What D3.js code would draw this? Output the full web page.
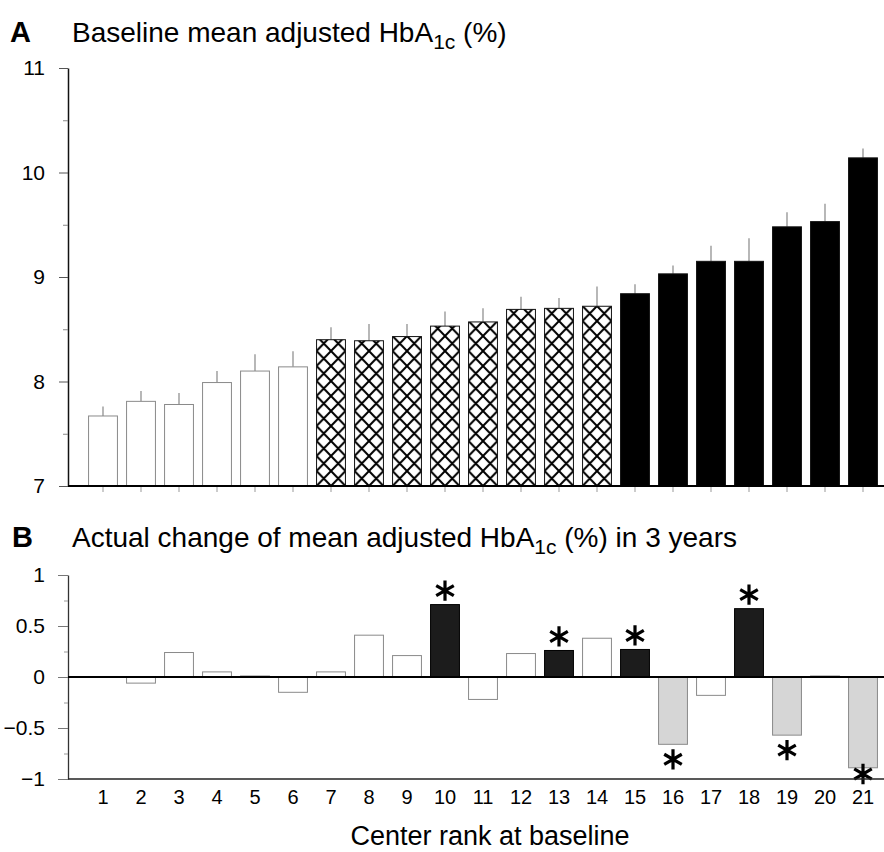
<!DOCTYPE html>
<html>
<head>
<meta charset="utf-8">
<script src="https://cdn.jsdelivr.net/npm/d3@7"></script>
<style>
  body { margin: 0; background: #fff; }
  svg { display: block; font-family: "Liberation Sans", Arial, sans-serif; }
</style>
</head>
<body>
<div id="chart-area"></div>
<script>

// Center ranks (x categories)
var ranks = ["1","2","3","4","5","6","7","8","9","10","11","12","13","14","15","16","17","18","19","20","21"];

// Panel A: baseline mean adjusted HbA1c (%) and upper error
var baseline = [7.67, 7.81, 7.78, 7.99, 8.10, 8.14, 8.40, 8.39, 8.43, 8.53, 8.57,
                8.69, 8.70, 8.72, 8.84, 9.03, 9.15, 9.15, 9.48, 9.53, 10.14];
var baselineErr = [0.09, 0.10, 0.11, 0.11, 0.16, 0.15, 0.12, 0.16, 0.12, 0.14, 0.13,
                   0.12, 0.10, 0.19, 0.09, 0.08, 0.15, 0.22, 0.14, 0.17, 0.09];
// tertile group of each center
var tertile = ["low","low","low","low","low","low",
               "mid","mid","mid","mid","mid","mid","mid","mid",
               "high","high","high","high","high","high","high"];

// Panel B: actual change in 3 years
var change = [0.005, -0.06, 0.24, 0.05, 0.01, -0.15, 0.05, 0.41, 0.21, 0.71, -0.22,
              0.23, 0.26, 0.38, 0.27, -0.66, -0.18, 0.67, -0.57, 0.01, -0.89];
// centers with a significant change
var significant = ["10","13","15","18","16","19","21"];

var yTicksA = [7, 8, 9, 10, 11];
var yTicksB = [-1, -0.5, 0, 0.5, 1];

var width = 884, height = 852;
var fontFamily = "'Liberation Sans', Arial, sans-serif";

var svg = d3.select("#chart-area").append("svg")
    .attr("width", width)
    .attr("height", height);

var defs = svg.append("defs");

// X scale (shared)
var x = d3.scaleBand()
    .domain(ranks)
    .range([84, 882])
    .paddingInner(0.24)
    .paddingOuter(0.12);

// Y scales
var yA = d3.scaleLinear().domain([7, 11]).range([486, 68]);
var yB = d3.scaleLinear().domain([-1, 1]).range([779, 575]);

var axisX0 = 68, axisX1 = 884;

var dataA = ranks.map(function(r, i) {
    return {rank: r, value: baseline[i], err: baselineErr[i], group: tertile[i]};
});
var dataB = ranks.map(function(r, i) {
    return {rank: r, value: change[i], sig: significant.indexOf(r) >= 0};
});

// crosshatch pattern for each middle-tertile bar
dataA.filter(function(d){ return d.group == "mid"; }).forEach(function(d){
    var w = x.bandwidth() / 2;
    var p = defs.append("pattern")
        .attr("id", "hatch-" + d.rank)
        .attr("patternUnits", "userSpaceOnUse")
        .attr("x", x(d.rank))
        .attr("y", yA(7))
        .attr("width", w)
        .attr("height", 15);
    p.append("rect").attr("width", w).attr("height", 15).attr("fill", "#fff");
    p.append("path")
        .attr("d", "M0,0L" + w + ",15M" + w + ",0L0,15")
        .attr("stroke", "#000")
        .attr("stroke-width", 2)
        .attr("fill", "none");
});

function styleAxisText(g, size) {
    g.attr("font-family", fontFamily).attr("font-size", size);
    g.selectAll("text").attr("fill", "#000");
}

// ---------- Panel A ----------
var gA = svg.append("g");

gA.append("text")
    .attr("x", 10).attr("y", 42)
    .attr("font-size", 29).attr("font-weight", "bold")
    .text("A");

var titleA = gA.append("text")
    .attr("x", 72).attr("y", 42)
    .attr("font-size", 28);
titleA.append("tspan").text("Baseline mean adjusted HbA");
titleA.append("tspan").attr("font-size", 21).attr("dy", 7).text("1c");
titleA.append("tspan").attr("dy", -7).text(" (%)");

// error bars (upper only)
gA.selectAll(".err")
    .data(dataA)
    .enter().append("line")
    .attr("class", "err")
    .attr("x1", function(d){ return x(d.rank) + x.bandwidth() / 2; })
    .attr("x2", function(d){ return x(d.rank) + x.bandwidth() / 2; })
    .attr("y1", function(d){ return yA(d.value); })
    .attr("y2", function(d){ return yA(d.value + d.err); })
    .attr("stroke", "#888")
    .attr("stroke-width", 1.2);

gA.selectAll(".bar")
    .data(dataA)
    .enter().append("rect")
    .attr("class", "bar")
    .attr("x", function(d){ return x(d.rank); })
    .attr("width", x.bandwidth())
    .attr("y", function(d){ return yA(d.value); })
    .attr("height", function(d){ return yA(7) - yA(d.value); })
    .attr("fill", function(d){
        if (d.group == "low") return "#fff";
        if (d.group == "mid") return "url(#hatch-" + d.rank + ")";
        return "#000";
    })
    .attr("stroke", function(d){ return d.group == "low" ? "#8a8a8a" : "#111"; })
    .attr("stroke-width", 1);

// y axis A
gA.append("g")
    .attr("transform", "translate(" + axisX0 + ",0)")
    .call(d3.axisLeft(yA).tickValues(yTicksA).tickSize(9).tickSizeOuter(0).tickPadding(14).tickFormat(d3.format("d")))
    .call(function(g){
        g.select(".domain").attr("stroke", "#111").attr("stroke-width", 1.5);
        g.selectAll(".tick line").attr("stroke", "#555");
        styleAxisText(g, 21);
    });
// minor ticks A
gA.append("g")
    .attr("transform", "translate(" + axisX0 + ",0)")
    .call(d3.axisLeft(yA).tickValues([7.5, 8.5, 9.5, 10.5]).tickSize(5).tickFormat(""))
    .call(function(g){
        g.select(".domain").remove();
        g.selectAll(".tick line").attr("stroke", "#888");
    });

// x axis A (ticks at bar centres, no labels)
gA.append("g")
    .attr("transform", "translate(0," + yA(7) + ")")
    .call(d3.axisBottom(x).tickSize(6).tickFormat(""))
    .call(function(g){
        g.select(".domain").remove();
        g.selectAll(".tick line").attr("stroke", "#999");
    });
gA.append("line")
    .attr("x1", axisX0).attr("x2", axisX1)
    .attr("y1", yA(7)).attr("y2", yA(7))
    .attr("stroke", "#000").attr("stroke-width", 1.8);

// ---------- Panel B ----------
var gB = svg.append("g");

gB.append("text")
    .attr("x", 12).attr("y", 547)
    .attr("font-size", 29).attr("font-weight", "bold")
    .text("B");

var titleB = gB.append("text")
    .attr("x", 72).attr("y", 547)
    .attr("font-size", 28);
titleB.append("tspan").text("Actual change of mean adjusted HbA");
titleB.append("tspan").attr("font-size", 21).attr("dy", 7).text("1c");
titleB.append("tspan").attr("dy", -7).text(" (%) in 3 years");

gB.selectAll(".bar")
    .data(dataB)
    .enter().append("rect")
    .attr("class", "bar")
    .attr("x", function(d){ return x(d.rank); })
    .attr("width", x.bandwidth())
    .attr("y", function(d){ return yB(Math.max(0, d.value)); })
    .attr("height", function(d){ return Math.abs(yB(d.value) - yB(0)); })
    .attr("fill", function(d){
        if (!d.sig) return "#fff";
        return d.value > 0 ? "#1c1c1c" : "#d6d6d6";
    })
    .attr("stroke", function(d){
        if (d.sig && d.value > 0) return "#000";
        return "#8a8a8a";
    })
    .attr("stroke-width", 1);

// significance asterisks (six-armed marks above / below the bar)
var star = d3.symbol().type(d3.symbolAsterisk).size(290);
gB.selectAll(".star")
    .data(dataB.filter(function(d){ return d.sig; }))
    .enter().append("path")
    .attr("class", "star")
    .attr("d", star)
    .attr("transform", function(d){
        var cx = x(d.rank) + x.bandwidth() / 2;
        var cy = d.value > 0 ? yB(d.value) - 14 : Math.min(yB(d.value) + 15, yB(-1) - 5);
        return "translate(" + cx + "," + cy + ")";
    })
    .attr("fill", "none")
    .attr("stroke", "#000")
    .attr("stroke-width", 3.2);

// y axis B
gB.append("g")
    .attr("transform", "translate(" + axisX0 + ",0)")
    .call(d3.axisLeft(yB).tickValues(yTicksB).tickSize(10).tickSizeOuter(0).tickPadding(13)
        .tickFormat(function(d){ return d3.format("")(d).replace("-", "\u2212"); }))
    .call(function(g){
        g.select(".domain").attr("stroke", "#333").attr("stroke-width", 1.3);
        g.selectAll(".tick line").attr("stroke", "#777");
        styleAxisText(g, 21);
    });
gB.append("g")
    .attr("transform", "translate(" + axisX0 + ",0)")
    .call(d3.axisLeft(yB).tickValues([-0.75, -0.25, 0.25, 0.75]).tickSize(4).tickFormat(""))
    .call(function(g){
        g.select(".domain").remove();
        g.selectAll(".tick line").attr("stroke", "#999");
    });

// zero line
gB.append("line")
    .attr("x1", axisX0).attr("x2", axisX1)
    .attr("y1", yB(0)).attr("y2", yB(0))
    .attr("stroke", "#000").attr("stroke-width", 1.8);

// bottom axis with rank labels
gB.append("g")
    .attr("transform", "translate(0," + yB(-1) + ")")
    .call(d3.axisBottom(x).tickSize(0).tickPadding(11))
    .call(function(g){
        g.select(".domain").remove();
        styleAxisText(g, 20);
    });
gB.append("line")
    .attr("x1", axisX0).attr("x2", axisX1)
    .attr("y1", yB(-1)).attr("y2", yB(-1))
    .attr("stroke", "#222").attr("stroke-width", 1.5);

gB.append("text")
    .attr("x", 490).attr("y", 845)
    .attr("text-anchor", "middle")
    .attr("font-size", 27)
    .text("Center rank at baseline");

</script>
</body>
</html>
